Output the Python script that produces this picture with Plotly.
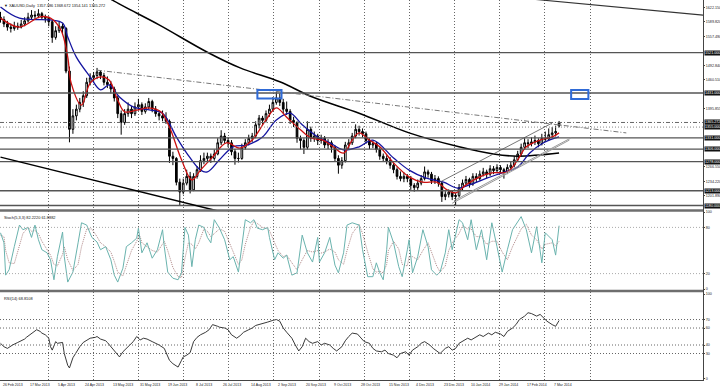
import plotly.graph_objects as go
from plotly.subplots import make_subplots

# ---------------- data ----------------
# one candle per two trading days, day index counted from 26 Feb 2013
bar_open = [1600,1595,1585,1578,1575,1580,1578,1585,1592,1600,1605,1603,1608,1600,1598,1590,1555,1570,1580,1575,
            1480,1350,1380,1395,1410,1425,1455,1465,1470,1478,1470,1455,1450,1440,1420,1385,1365,1385,1395,1385,
            1400,1405,1390,1400,1412,1395,1385,1380,1375,1368,1290,1285,1232,1210,1230,1245,1215,1245,1260,1280,
            1285,1290,1285,1295,1320,1335,1325,1320,1300,1285,1285,1310,1320,1330,1335,1360,1375,1370,1385,1395,
            1410,1420,1410,1395,1390,1370,1365,1330,1325,1310,1350,1330,1335,1325,1330,1315,1320,1310,1285,1270,
            1280,1315,1320,1335,1350,1345,1340,1325,1315,1318,1305,1290,1285,1280,1270,1260,1245,1240,1245,1240,
            1225,1220,1230,1240,1255,1250,1235,1240,1230,1200,1205,1210,1200,1202,1220,1230,1238,1228,1245,1240,
            1250,1255,1250,1262,1258,1265,1260,1255,1265,1270,1282,1295,1310,1320,1318,1322,1325,1318,1330,1328,
            1338,1342,1357.386]
bar_high = [1612,1602,1592,1586,1590,1588,1594,1600,1610,1616,1614,1618,1612,1606,1602,1594,1580,1590,1586,1578,
            1490,1395,1405,1420,1435,1465,1475,1478,1487,1482,1476,1468,1458,1445,1425,1392,1395,1410,1402,1410,
            1418,1410,1408,1420,1416,1402,1392,1392,1388,1372,1300,1288,1240,1240,1260,1255,1252,1268,1292,1298,
            1298,1296,1305,1330,1348,1342,1332,1326,1306,1298,1318,1328,1338,1342,1368,1382,1380,1392,1405,1422,
            1433,1430,1418,1412,1395,1378,1368,1336,1330,1368,1356,1345,1340,1338,1335,1328,1325,1314,1292,1288,
            1322,1328,1342,1361,1358,1352,1345,1330,1325,1322,1310,1296,1292,1288,1275,1265,1256,1254,1250,1246,
            1230,1238,1248,1267,1260,1255,1248,1245,1234,1212,1216,1214,1208,1228,1238,1246,1242,1252,1252,1258,
            1264,1260,1270,1268,1272,1270,1264,1272,1278,1290,1302,1318,1330,1328,1332,1336,1330,1340,1345,1352,
            1355,1358,1368.672]
bar_low = [1588,1578,1570,1566,1570,1572,1575,1580,1588,1596,1595,1598,1594,1588,1580,1543,1550,1565,1562,1475,
           1321,1340,1370,1388,1400,1420,1448,1455,1462,1462,1448,1442,1430,1412,1375,1338,1360,1378,1375,1380,
           1392,1382,1385,1395,1388,1378,1370,1368,1362,1275,1270,1225,1180,1205,1225,1207,1212,1240,1255,1272,
           1276,1275,1280,1292,1315,1318,1310,1292,1271,1276,1282,1305,1314,1322,1330,1352,1360,1365,1378,1390,
           1405,1402,1386,1382,1362,1355,1320,1305,1295,1305,1322,1322,1315,1318,1308,1306,1298,1278,1251,1262,
           1276,1305,1315,1330,1336,1332,1318,1306,1308,1298,1282,1278,1272,1262,1252,1238,1234,1232,1232,1215,
           1211,1215,1225,1236,1242,1228,1228,1222,1188,1192,1198,1192,1181,1198,1214,1225,1220,1224,1232,1236,
           1245,1240,1246,1250,1252,1252,1240,1250,1258,1265,1278,1290,1305,1308,1312,1315,1310,1314,1322,1324,
           1330,1334,1354.141]
bar_close = [1595,1585,1578,1575,1580,1578,1585,1592,1600,1605,1603,1608,1600,1598,1590,1555,1570,1580,1575,1480,
             1350,1380,1395,1410,1425,1455,1465,1470,1478,1470,1455,1450,1440,1420,1385,1365,1385,1395,1385,1400,
             1405,1390,1400,1412,1395,1385,1380,1375,1368,1290,1285,1232,1210,1230,1245,1215,1245,1260,1280,1285,
             1290,1285,1295,1320,1335,1325,1320,1300,1285,1285,1310,1320,1330,1335,1360,1375,1370,1385,1395,1410,
             1420,1410,1395,1390,1370,1365,1330,1325,1310,1350,1330,1335,1325,1330,1315,1320,1310,1285,1270,1280,
             1315,1320,1335,1350,1345,1340,1325,1315,1318,1305,1290,1285,1280,1270,1260,1245,1240,1245,1240,1225,
             1220,1230,1240,1255,1250,1235,1240,1230,1200,1205,1210,1200,1202,1220,1230,1238,1228,1245,1240,1250,
             1255,1250,1262,1258,1265,1260,1255,1265,1270,1282,1295,1310,1320,1318,1322,1325,1318,1330,1328,1338,
             1342,1345,1365.272]
bar_day = list(range(0, 2 * len(bar_close), 2))

ma_red_day = [0,11,23,29,35,39,41,47,52,58,63,68,72,79,86,93,98,105,111,116,123,131,139,146,154,160,166,174,180,
              187,193,199,204,208,214,220,228,237,245,253,259,264,270,278,285,294,300,305,313,320,324]
ma_red_val = [1598,1578,1601,1598,1572,1511,1453,1404,1453,1467,1460,1415,1389,1393,1398,1389,1355,1282,1237,1259,
              1288,1320,1308,1326,1371,1398,1377,1349,1331,1326,1311,1297,1326,1342,1326,1311,1275,1244,1232,1232,
              1215,1208,1226,1244,1253,1255,1282,1311,1326,1333,1342]
ma_blue_day = [0,11,29,36,39,44,52,58,63,69,77,87,94,102,108,116,120,127,135,143,152,160,168,175,184,191,199,208,
               216,228,237,247,257,265,272,282,291,300,307,315,324]
ma_blue_val = [1623,1598,1594,1587,1556,1511,1467,1438,1449,1422,1400,1393,1386,1333,1297,1259,1255,1282,1311,1315,
               1333,1371,1386,1360,1333,1320,1304,1311,1326,1286,1259,1241,1232,1219,1226,1241,1253,1266,1297,1320,1333]
ma200_day = [58,65,92,120,139,162,181,208,237,266,286,300,324]
ma200_val = [1656,1638,1583,1522,1487,1456,1422,1386,1342,1311,1295,1290,1297]

stoch_day = [0,2,3,5,8,11,13,16,18,20,22,24,27,29,31,33,36,37,39,42,45,47,50,53,56,58,61,64,66,68,71,73,76,79,80,
             81,82,85,88,91,94,95,97,100,103,105,107,109,111,113,115,118,120,122,124,127,130,133,135,138,140,142,
             145,147,149,152,155,156,159,161,164,166,169,172,175,178,181,184,185,188,191,194,196,199,201,204,208,
             210,213,216,218,220,222,224,225,228,231,233,236,237,239,242,245,248,250,253,255,258,260,262,266,268,
             271,273,276,279,282,285,288,291,294,297,302,305,308,311,314,316,320,322,324]
stoch_k = [73,60,18,25,55,83,77,80,67,83,64,51,47,38,12,42,74,42,9,22,60,86,83,67,61,51,55,38,18,9,27,55,60,66,79,
           61,47,60,40,51,77,55,22,14,12,21,80,70,29,64,83,80,67,60,90,79,64,38,42,22,55,90,86,90,79,77,80,67,38,
           47,40,44,18,21,70,47,35,67,35,47,67,31,21,47,83,86,83,51,16,16,34,21,12,51,80,60,29,16,51,64,21,42,77,
           55,25,18,22,47,77,51,90,86,64,90,51,77,38,86,55,22,51,77,94,77,47,81,34,73,64,44,82.222]
stoch_d = [70,68,50,34,33,55,72,80,75,76,72,62,52,44,32,30,45,55,38,24,32,55,78,78,68,60,55,48,36,22,17,30,50,62,
           68,68,60,55,50,48,58,62,50,28,16,15,40,60,58,52,60,78,75,68,72,78,75,58,48,32,38,58,80,88,85,80,78,76,
           60,50,42,44,34,25,38,50,48,50,46,48,52,48,38,32,50,72,84,72,48,26,22,23,21,32,50,62,52,32,30,42,42,38,
           50,60,48,30,22,30,50,60,72,82,78,78,68,68,58,62,62,48,38,55,78,84,70,64,52,58,60,56,61.8882]

rsi_day = [0,2,4,6,7,10,11,14,15,17,19,21,23,24,26,28,29,30,32,33,36,37,39,40,42,44,46,48,50,52,55,56,58,61,62,65,
           67,69,71,73,75,77,79,81,83,85,88,90,92,95,97,98,100,103,105,106,108,110,112,114,116,119,121,123,126,127,
           130,132,134,137,139,141,144,146,148,150,153,155,158,160,162,164,166,169,171,173,175,177,179,181,184,186,
           188,191,193,195,198,200,202,204,207,209,211,214,216,218,221,223,225,228,230,232,235,237,239,242,244,246,
           249,251,253,255,258,260,262,264,266,269,271,273,276,278,280,283,285,287,290,292,294,297,299,301,304,306,
           308,311,313,315,317,320,322,324]
rsi_val = [42,38,36,39,40,43,44,47,49,52,55,58,56,54,52,48,38,34,44,42,43,30,16,13,25,32,38,43,46,48,49,50,47,45,43,
           36,30,26,32,36,40,44,50,46,48,47,44,42,40,36,25,22,18,14,22,26,28,31,44,49,52,55,58,64,62,61,60,58,52,48,
           51,55,58,60,63,64,66,67,69,70,68,60,55,48,40,33,38,48,44,42,44,40,42,40,36,33,38,45,50,54,53,48,44,42,36,
           33,32,34,30,28,25,30,32,28,34,38,42,44,40,36,33,30,36,38,34,36,42,46,48,46,50,52,50,54,52,55,53,50,56,60,
           64,70,74,78,77,74,76,72,68,64,62,68.8108]

level_prices = [1521.0, 1431.0, 1331.0, 1306.0, 1278.0, 1213.0, 1180.0]
level_labels = ["1521.000", "1431.000", "1331.000", "1306.000", "1278.000", "1213.000", "1180.000"]
bid_price = 1365.272
ask_price = 1355.0
# price scale labels that are not hidden behind a level box
price_ticks = [1622.150, 1589.820, 1557.490, 1492.840, 1460.510, 1395.855,
               1266.550, 1234.220, 1201.890]
date_labels = ["26 Feb 2013", "17 Mar 2013", "5 Apr 2013", "24 Apr 2013", "13 May 2013", "31 May 2013",
               "19 Jun 2013", "8 Jul 2013", "26 Jul 2013", "14 Aug 2013", "2 Sep 2013", "20 Sep 2013",
               "9 Oct 2013", "28 Oct 2013", "15 Nov 2013", "4 Dec 2013", "23 Dec 2013", "10 Jan 2014",
               "29 Jan 2014", "17 Feb 2014", "7 Mar 2014"]
bars_per_label = 16

# trend lines: (day, price) endpoints
trend_lower_left = [(0, 1288.0), (126, 1168.0)]
trend_top_right = [(300, 1643.5), (408, 1604.5)]
trend_dashdot = [(56, 1482.0), (363, 1342.0)]
channel_upper = [(255, 1232.5), (320, 1364.0)]
channel_lower_a = [(262, 1185.0), (330, 1326.0)]
channel_lower_b = [(263, 1190.5), (331, 1331.0)]
marked_zones = [((149, 163), (1419.0, 1437.5)), ((331, 341), (1417.5, 1437.5))]

# ---------------- figure ----------------
W, H = 720, 389
fig = make_subplots(rows=3, cols=1, shared_xaxes=True, vertical_spacing=0)

fig.add_trace(go.Candlestick(
    x=bar_day, open=bar_open, high=bar_high, low=bar_low, close=bar_close,
    increasing=dict(line=dict(color="#000000", width=1), fillcolor="#ffffff"),
    decreasing=dict(line=dict(color="#000000", width=1), fillcolor="#000000"),
    whiskerwidth=0, showlegend=False, hoverinfo="skip"), row=1, col=1)

fig.add_trace(go.Scatter(x=ma200_day, y=ma200_val, mode="lines", line=dict(color="#000000", width=1.5, shape="spline"),
                         showlegend=False, hoverinfo="skip"), row=1, col=1)
fig.add_trace(go.Scatter(x=ma_blue_day, y=ma_blue_val, mode="lines", line=dict(color="#1414a0", width=1.3, shape="spline"),
                         showlegend=False, hoverinfo="skip"), row=1, col=1)
fig.add_trace(go.Scatter(x=ma_red_day, y=ma_red_val, mode="lines", line=dict(color="#cc1010", width=1.3, shape="spline"),
                         showlegend=False, hoverinfo="skip"), row=1, col=1)

fig.add_trace(go.Scatter(x=stoch_day, y=stoch_d, mode="lines", line=dict(color="#b08888", width=1, dash="1px,1px"),
                         showlegend=False, hoverinfo="skip"), row=2, col=1)
fig.add_trace(go.Scatter(x=stoch_day, y=stoch_k, mode="lines", line=dict(color="#6ab3ae", width=1),
                         showlegend=False, hoverinfo="skip"), row=2, col=1)

fig.add_trace(go.Scatter(x=rsi_day, y=rsi_val, mode="lines", line=dict(color="#222222", width=0.9),
                         showlegend=False, hoverinfo="skip"), row=3, col=1)

# horizontal levels
for p in level_prices:
    fig.add_hline(y=p, line=dict(color="#555555", width=1.3), row=1, col=1)
fig.add_hline(y=bid_price, line=dict(color="#666666", width=1, dash="4px,2px,1px,2px"), row=1, col=1)
fig.add_hline(y=ask_price, line=dict(color="#888888", width=1, dash="1px,2px"), row=1, col=1)
for lv in (80, 20):
    fig.add_hline(y=lv, line=dict(color="#aaaaaa", width=1, dash="1px,2px"), row=2, col=1)
for lv in (70, 60, 40, 30):
    fig.add_hline(y=lv, line=dict(color="#666666", width=1, dash="1px,2px"), row=3, col=1)

def seg(pts, color, width, dash="solid"):
    (xa, ya), (xb, yb) = pts
    fig.add_shape(type="line", xref="x", yref="y", x0=xa, y0=ya, x1=xb, y1=yb,
                  line=dict(color=color, width=width, dash=dash), layer="above")

seg(trend_lower_left, "#000000", 1.5)
seg(trend_top_right, "#333333", 1.1)
seg(trend_dashdot, "#777777", 1, "5px,2px,1px,2px")
seg(channel_upper, "#555555", 0.8)
seg(channel_lower_a, "#999999", 1)
seg(channel_lower_b, "#999999", 1)
for (xa, xb), (ya, yb) in marked_zones:
    fig.add_shape(type="rect", xref="x", yref="y", x0=xa, x1=xb, y0=ya, y1=yb,
                  line=dict(color="#2f6ad6", width=2), fillcolor="rgba(0,0,0,0)", layer="above")

# ---------------- axes & layout ----------------
plot_w = 703
px_per_day = 1.724
x_lo = -0.29
x_hi = x_lo + plot_w / px_per_day
plot_h = 380
grid_days = [27.6 + 26.2 * i for i in range(13)]

def dom(top_px, bot_px):
    return [1 - bot_px / plot_h, 1 - top_px / plot_h]

FONT = "Liberation Sans, Arial"
axis_font = dict(family=FONT, size=3.7, color="#222")
fig.update_xaxes(range=[x_lo, x_hi], showgrid=True, gridcolor="#666666", griddash="1px,2px", gridwidth=1,
                 tickmode="array", tickvals=grid_days, showticklabels=False, ticks="", zeroline=False,
                 showline=True, linecolor="#444444", linewidth=1, mirror=True, automargin=False,
                 rangeslider_visible=False)

yax = dict(side="right", tickfont=axis_font, ticks="outside", ticklen=1, tickcolor="#444", showgrid=False,
           zeroline=False, showline=True, linecolor="#444444", linewidth=1, mirror=True, automargin=False)
fig.update_layout(
    yaxis=dict(domain=dom(0, 210), range=[1170.0, 1638.5], tickvals=price_ticks,
               ticktext=[f"{v:.3f}" for v in price_ticks], **yax),
    yaxis2=dict(domain=dom(211, 290), range=[-1.3, 101.3], tickvals=[0, 20, 80, 100], **yax),
    yaxis3=dict(domain=dom(292, 380), range=[-1.2, 102.4], tickvals=[0, 30, 40, 60, 70, 100], **yax),
    width=W, height=H, margin=dict(l=0, r=W - plot_w, t=0, b=H - plot_h, autoexpand=False),
    paper_bgcolor="#ffffff", plot_bgcolor="#ffffff", showlegend=False,
    font=dict(family=FONT, size=4, color="#222"),
)

# panel separators
for ypx in (210.5, 291):
    fig.add_shape(type="line", xref="paper", yref="paper", x0=0, x1=1, y0=1 - ypx / plot_h, y1=1 - ypx / plot_h,
                  line=dict(color="#6e6e6e", width=2.5), layer="above")

# boxed level labels
lab_font = dict(family=FONT, size=3.7, color="#ffffff")
for p, lab in list(zip(level_prices, level_labels)) + [(bid_price, "1365.272"), (ask_price, "1355.000")]:
    fig.add_annotation(x=1, xref="paper", y=p, yref="y", xanchor="left", xshift=1, text=lab, showarrow=False,
                       bgcolor="#111111", font=lab_font, borderpad=0)

# panel captions
cap_font = dict(family=FONT, size=3.9, color="#111")
fig.add_annotation(x=0, xref="paper", y=1, yref="paper", xanchor="left", yanchor="top", xshift=2, yshift=-1,
                   text="▼ XAUUSD,Daily  1357.386 1368.672 1354.141 1365.272", showarrow=False, font=cap_font)
fig.add_annotation(x=0, xref="paper", y=dom(211, 290)[1], yref="paper", xanchor="left", yanchor="top", xshift=2,
                   yshift=-2, text="Stoch(5,3,3) 82.2220 61.8882", showarrow=False, font=cap_font)
fig.add_annotation(x=0, xref="paper", y=dom(292, 380)[1], yref="paper", xanchor="left", yanchor="top", xshift=2,
                   yshift=-2, text="RSI(14) 68.8108", showarrow=False, font=cap_font)

# date labels along the bottom
for i, lab in enumerate(date_labels):
    fig.add_annotation(x=i * bars_per_label, xref="x3", y=0, yref="paper", xanchor="left", yanchor="top",
                       yshift=-1, text=lab, showarrow=False, font=dict(family=FONT, size=3.5, color="#222"))

fig.write_html("out.html", config={"displayModeBar": False},
               post_script="document.body.style.margin='0px';document.body.style.overflow='hidden';")
